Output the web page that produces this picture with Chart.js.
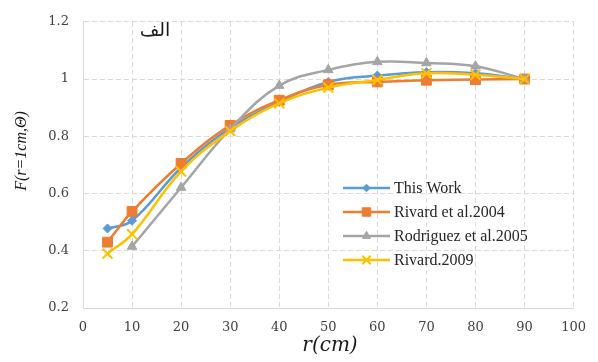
<!DOCTYPE html>
<html>
<head>
<meta charset="utf-8">
<script src="https://cdn.jsdelivr.net/npm/chart.js@4"></script>
<style>
html,body{margin:0;padding:0;background:#fff;}
#wrap{width:598px;height:362px;}
</style>
</head>
<body>
<div id="wrap"><canvas id="c" width="598" height="362"></canvas></div>
<script>
const radii = [5, 10, 20, 30, 40, 50, 60, 70, 80, 90];
const radiiRodriguez = [10, 20, 30, 40, 50, 60, 70, 80, 90];
const thisWork = [0.478, 0.505, 0.690, 0.828, 0.920, 0.990, 1.012, 1.024, 1.020, 1.000];
const rivard2004 = [0.430, 0.537, 0.705, 0.838, 0.926, 0.980, 0.990, 0.996, 0.998, 1.000];
const rodriguez2005 = [0.415, 0.621, 0.825, 0.977, 1.032, 1.060, 1.056, 1.045, 1.000];
const rivard2009 = [0.390, 0.458, 0.677, 0.818, 0.915, 0.970, 0.997, 1.020, 1.015, 1.000];
const seriesNames = ['This Work', 'Rivard et al.2004', 'Rodriguez et al.2005', 'Rivard.2009'];
const xTicks = [0, 10, 20, 30, 40, 50, 60, 70, 80, 90, 100];
const yTicks = [0.2, 0.4, 0.6, 0.8, 1, 1.2];
const panelLabel = 'الف';
const xTitle = 'r(cm)';
const yTitle = 'F(r=1cm,Θ)';

const pts = (xs, ys) => xs.map((x, i) => ({x: x, y: ys[i]}));

const styles = [
  {color: '#5B9BD5', pointStyle: 'rectRot', radius: 4.5, order: 3},
  {color: '#ED7D31', pointStyle: 'rect', radius: 7, order: 2},
  {color: '#A5A5A5', pointStyle: 'triangle', radius: 5.5, order: 1},
  {color: '#FFC000', pointStyle: 'crossRot', radius: 7, order: 0}
];
const seriesData = [pts(radii, thisWork), pts(radii, rivard2004), pts(radiiRodriguez, rodriguez2005), pts(radii, rivard2009)];

const datasets = seriesData.map((d, i) => ({
  label: seriesNames[i],
  data: d,
  borderColor: styles[i].color,
  backgroundColor: styles[i].color,
  pointBackgroundColor: styles[i].color,
  pointBorderColor: styles[i].color,
  pointStyle: styles[i].pointStyle,
  pointRadius: styles[i].radius,
  pointBorderWidth: styles[i].pointStyle === 'crossRot' ? 2 : 1,
  borderWidth: 2.5,
  tension: 0.4,
  fill: false,
  order: styles[i].order
}));

const extras = {
  id: 'extras',
  afterDraw(chart) {
    const ctx = chart.ctx;
    ctx.save();
    // panel label
    ctx.font = '19px "DejaVu Sans"';
    ctx.fillStyle = '#1a1a1a';
    ctx.textAlign = 'center';
    ctx.textBaseline = 'middle';
    ctx.fillText(panelLabel, 155, 31);
    // axis titles
    ctx.fillStyle = '#1a1a1a';
    ctx.font = 'italic 20px "DejaVu Serif"';
    ctx.textAlign = 'center';
    ctx.textBaseline = 'middle';
    ctx.fillText(xTitle, 330, 346);
    ctx.save();
    ctx.translate(22, 151);
    ctx.rotate(-Math.PI / 2);
    ctx.font = 'italic 16px "Liberation Serif"';
    ctx.fillText(yTitle, 0, 0);
    ctx.restore();
    // legend
    const lx0 = 343, lx1 = 390, tx = 394;
    const ly = [188, 212, 236, 260];
    ctx.font = '16px "Liberation Serif"';
    chart.data.datasets.forEach((ds, i) => {
      const y = ly[i];
      ctx.strokeStyle = ds.borderColor;
      ctx.lineWidth = 2.5;
      ctx.setLineDash([]);
      ctx.beginPath();
      ctx.moveTo(lx0, y);
      ctx.lineTo(lx1, y);
      ctx.stroke();
      ctx.fillStyle = ds.borderColor;
      ctx.strokeStyle = ds.borderColor;
      ctx.lineWidth = ds.pointBorderWidth;
      Chart.helpers.drawPoint(ctx, {pointStyle: ds.pointStyle, radius: ds.pointRadius * 0.85, rotation: 0, borderWidth: ds.pointBorderWidth}, (lx0 + lx1) / 2, y);
      ctx.fillStyle = '#262626';
      ctx.textAlign = 'left';
      ctx.textBaseline = 'middle';
      ctx.fillText(ds.label, tx, y + 1);
    });
    ctx.restore();
  }
};

new Chart(document.getElementById('c'), {
  type: 'line',
  data: {datasets: datasets},
  options: {
    responsive: false,
    animation: false,
    devicePixelRatio: 1,
    layout: {padding: {left: 0, top: 8, right: 22, bottom: 0}},
    plugins: {legend: {display: false}, tooltip: {enabled: false}},
    scales: {
      x: {
        type: 'linear',
        min: 0, max: 100,
        afterFit(s) { s.height = 54; },
        afterBuildTicks(s) { s.ticks = xTicks.map(v => ({value: v})); },
        ticks: {color: '#404040', font: {family: '"DejaVu Serif"', size: 13}, padding: 12, callback: v => String(v)},
        grid: {color: '#d9d9d9', drawTicks: false, lineWidth: 1},
        border: {display: true, color: '#d9d9d9', dash: [5, 3]}
      },
      y: {
        type: 'linear',
        min: 0.2, max: 1.2,
        afterFit(s) { s.width = 83; },
        afterBuildTicks(s) { s.ticks = yTicks.map(v => ({value: v})); },
        ticks: {color: '#404040', font: {family: '"DejaVu Serif"', size: 13}, padding: 14, callback: v => String(Math.round(v * 10) / 10)},
        grid: {color: '#d9d9d9', drawTicks: false, lineWidth: 1},
        border: {display: true, color: '#d9d9d9', dash: [5, 3]}
      }
    }
  },
  plugins: [extras]
});
</script>
</body>
</html>
